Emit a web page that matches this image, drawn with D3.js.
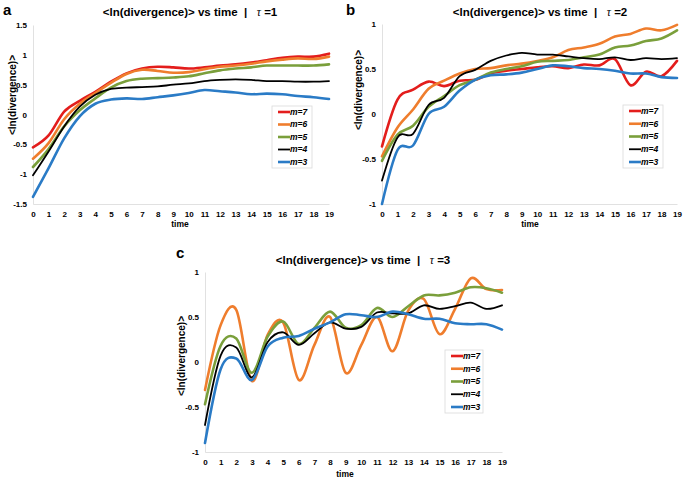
<!DOCTYPE html>
<html>
<head>
<meta charset="utf-8">
<script src="https://cdn.jsdelivr.net/npm/d3@7"></script>
<style>
html,body{margin:0;padding:0;background:#fff;}
svg{display:block;font-family:"Liberation Sans",Arial,sans-serif;}
.tick-label{font-size:8px;font-weight:bold;fill:#000;}
.title{font-size:11.5px;font-weight:bold;fill:#000;white-space:pre;}
.ytitle{font-size:10px;font-weight:bold;fill:#000;}
.xtitle{font-size:8.5px;font-weight:bold;fill:#000;}
.panel-letter{font-size:15px;font-weight:bold;fill:#000;}
.leg{font-size:8.5px;font-weight:bold;font-style:italic;fill:#000;}
</style>
</head>
<body>
<svg id="chart" width="685" height="480"></svg>
<script>
// ---------- data ----------
const times = d3.range(0, 20);                  // 0..19
const seriesNames = ["m=7", "m=6", "m=5", "m=4", "m=3"];
const seriesColors = ["#e31d1c", "#ef7d2d", "#7a9f3b", "#000000", "#2a7bc6"];
const seriesWidths = [2.6, 2.6, 2.6, 1.8, 2.6];

// Panel a (tau = 1)
const a_m7 = [-0.55,-0.35,0.05,0.23,0.38,0.55,0.69,0.77,0.80,0.79,0.77,0.79,0.82,0.84,0.87,0.91,0.95,0.97,0.97,1.02];
const a_m6 = [-0.74,-0.48,-0.08,0.18,0.36,0.53,0.68,0.75,0.73,0.70,0.71,0.76,0.80,0.82,0.85,0.89,0.92,0.94,0.93,0.97];
const a_m5 = [-0.88,-0.58,-0.20,0.07,0.27,0.45,0.56,0.60,0.61,0.62,0.64,0.69,0.74,0.77,0.79,0.82,0.82,0.82,0.82,0.84];
const a_m4 = [-1.02,-0.62,-0.20,0.13,0.33,0.43,0.45,0.46,0.47,0.50,0.52,0.56,0.58,0.59,0.58,0.56,0.56,0.55,0.55,0.56];
const a_m3 = [-1.38,-0.90,-0.40,-0.03,0.18,0.25,0.27,0.26,0.29,0.32,0.36,0.41,0.39,0.37,0.34,0.35,0.34,0.31,0.29,0.26];

// Panel b (tau = 2)
const b_m7 = [-0.36,0.16,0.27,0.36,0.31,0.37,0.38,0.45,0.48,0.50,0.52,0.53,0.51,0.55,0.54,0.61,0.32,0.47,0.42,0.59];
const b_m6 = [-0.47,-0.15,0.05,0.28,0.37,0.45,0.50,0.51,0.54,0.56,0.59,0.63,0.71,0.74,0.78,0.86,0.89,0.95,0.93,0.99];
const b_m5 = [-0.52,-0.23,-0.13,0.08,0.20,0.32,0.38,0.46,0.50,0.53,0.58,0.59,0.60,0.63,0.66,0.74,0.76,0.81,0.84,0.93];
const b_m4 = [-0.74,-0.26,-0.22,0.10,0.18,0.42,0.49,0.59,0.65,0.68,0.66,0.66,0.64,0.62,0.61,0.63,0.60,0.62,0.61,0.62];
const b_m3 = [-1.00,-0.40,-0.35,0.00,0.08,0.26,0.38,0.43,0.44,0.46,0.50,0.54,0.53,0.51,0.50,0.48,0.45,0.45,0.41,0.40];

// Panel c (tau = 3) — m=7 not visible in the reference
const c_m7 = [];
const c_m6 = [-0.31,0.41,0.58,-0.21,0.30,0.44,-0.20,0.19,0.50,-0.12,0.19,0.50,0.12,0.57,0.70,0.31,0.59,0.93,0.81,0.80];
const c_m5 = [-0.47,0.18,0.26,-0.12,0.28,0.45,0.20,0.38,0.56,0.38,0.41,0.60,0.50,0.62,0.74,0.74,0.77,0.83,0.82,0.77];
const c_m4 = [-0.70,0.07,0.16,-0.17,0.22,0.33,0.19,0.32,0.44,0.37,0.39,0.55,0.54,0.54,0.63,0.59,0.62,0.66,0.59,0.63];
const c_m3 = [-0.90,-0.08,0.04,-0.20,0.17,0.27,0.29,0.37,0.44,0.53,0.52,0.50,0.56,0.53,0.48,0.48,0.43,0.42,0.42,0.36];

const a_yTicks = [-1.5,-1,-0.5,0,0.5,1,1.5];
const bc_yTicks = [-1,-0.5,0,0.5,1];

const panels = [
  {letter:"a", tau:"1", series:[a_m7,a_m6,a_m5,a_m4,a_m3], ydom:[-1.5,1.5], yticks:a_yTicks,
   x0:33, x1:329, yTop:25, yBot:204, titleX:190, titleY:16, letterX:3, letterY:15,
   ytitleX:12, ytitleY:95, xtitleX:180, xtitleY:227, leg:{x:272,y:106,w:40,h:62}},
  {letter:"b", tau:"2", series:[b_m7,b_m6,b_m5,b_m4,b_m3], ydom:[-1,1], yticks:bc_yTicks,
   x0:382, x1:677, yTop:24, yBot:204, titleX:540, titleY:16, letterX:346, letterY:15,
   ytitleX:358, ytitleY:90, xtitleX:530, xtitleY:227, leg:{x:623,y:105,w:40,h:63}},
  {letter:"c", tau:"3", series:[c_m7,c_m6,c_m5,c_m4,c_m3], ydom:[-1,1], yticks:bc_yTicks,
   x0:205, x1:502, yTop:272, yBot:452, titleX:363, titleY:264, letterX:176, letterY:258,
   ytitleX:181, ytitleY:356, xtitleX:345, xtitleY:477, leg:{x:445,y:350,w:38,h:63}}
];

const svg = d3.select("#chart");

panels.forEach(p => {
  const g = svg.append("g");
  const x = d3.scaleLinear().domain([0,19]).range([p.x0, p.x1]);
  const y = d3.scaleLinear().domain(p.ydom).range([p.yBot, p.yTop]);

  // axes
  const xAxis = d3.axisBottom(x).tickValues(times).tickSize(0).tickPadding(7).tickFormat(d3.format("d"));
  const gx = g.append("g").attr("transform", `translate(0,${p.yBot})`).call(xAxis);
  gx.select(".domain").attr("stroke", "#d9d9d9").attr("stroke-width", 0.8);
  gx.selectAll("text").attr("class", "tick-label").attr("font-family", null).attr("font-size", null);

  const yAxis = d3.axisLeft(y).tickValues(p.yticks).tickSize(0).tickPadding(6)
      .tickFormat(d => String(d));
  const gy = g.append("g").attr("transform", `translate(${p.x0},0)`).call(yAxis);
  gy.select(".domain").attr("stroke", "#d9d9d9").attr("stroke-width", 0.8);
  gy.selectAll("text").attr("class", "tick-label").attr("font-family", null).attr("font-size", null);

  // lines (draw m=7 first so blue is on top)
  const line = d3.line()
    .x((d,i) => x(times[i]))
    .y(d => y(d))
    .curve(d3.curveCardinal.tension(0));
  const clipId = "clip-" + p.letter;
  g.append("clipPath").attr("id", clipId).append("rect")
    .attr("x", p.x0 - 2).attr("y", p.yTop - 4).attr("width", p.x1 - p.x0 + 4).attr("height", p.yBot - p.yTop + 6);
  const lines = g.append("g").attr("clip-path", `url(#${clipId})`);
  p.series.forEach((s, i) => {
    if (!s.length) return;
    lines.append("path")
      .attr("d", line(s))
      .attr("fill", "none")
      .attr("stroke", seriesColors[i])
      .attr("stroke-width", seriesWidths[i])
      .attr("stroke-linejoin", "round")
      .attr("stroke-linecap", "round");
  });

  // titles
  const t = g.append("text").attr("class", "title").attr("x", p.titleX).attr("y", p.titleY)
    .attr("text-anchor", "middle").attr("xml:space", "preserve");
  t.append("tspan").text("<ln(divergence)> vs time\u00A0\u00A0|\u00A0\u00A0\u00A0");
  t.append("tspan").attr("font-family", "'Liberation Serif','DejaVu Serif',serif").attr("font-style", "italic").attr("font-weight", "normal").text("τ");
  t.append("tspan").text("\u00A0=" + p.tau);

  g.append("text").attr("class", "panel-letter").attr("x", p.letterX).attr("y", p.letterY).text(p.letter);

  g.append("text").attr("class", "ytitle")
    .attr("transform", `translate(${p.ytitleX},${p.ytitleY}) rotate(-90)`)
    .attr("text-anchor", "middle").attr("dy", "0.35em").text("<ln(divergence)>");

  g.append("text").attr("class", "xtitle").attr("x", p.xtitleX).attr("y", p.xtitleY)
    .attr("text-anchor", "middle").text("time");

  // legend
  const L = p.leg;
  const lg = g.append("g");
  lg.append("rect").attr("x", L.x).attr("y", L.y).attr("width", L.w).attr("height", L.h)
    .attr("fill", "#fff").attr("stroke", "#d9d9d9").attr("stroke-width", 0.8);
  const step = (L.h - 12) / 4;
  seriesNames.forEach((n, i) => {
    const yy = L.y + 6 + i * step;
    lg.append("line").attr("x1", L.x + 6).attr("x2", L.x + 18).attr("y1", yy).attr("y2", yy)
      .attr("stroke", seriesColors[i]).attr("stroke-width", i === 3 ? 1.8 : 2.6);
    lg.append("text").attr("class", "leg").attr("x", L.x + 18).attr("y", yy).attr("dy", "0.33em")
      .text(n);
  });
});
</script>
</body>
</html>
